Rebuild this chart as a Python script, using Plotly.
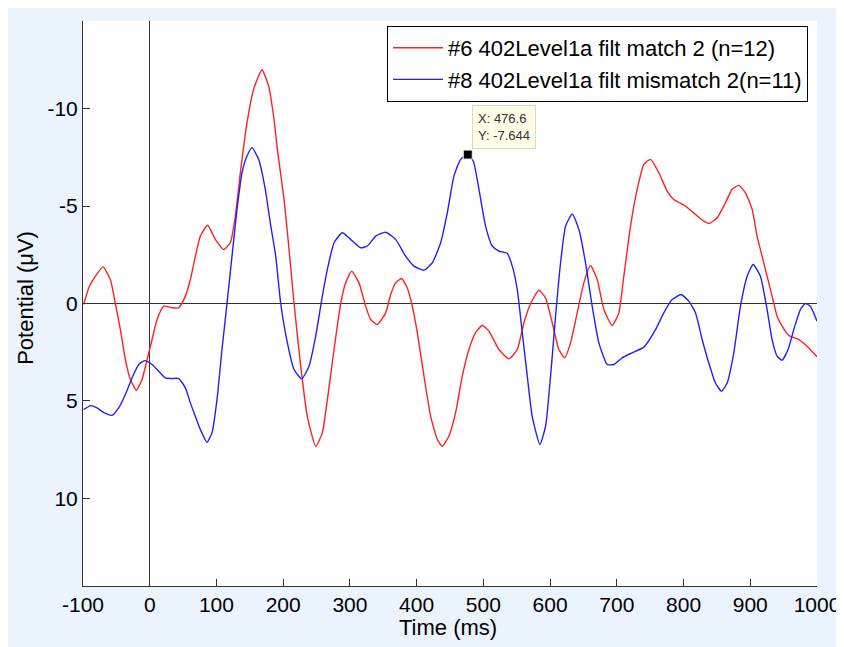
import plotly.graph_objects as go

# ---- data ----
red_x = [-99, -91.4, -81.4, -70, -59, -51.5, -44, -36.5, -29, -20, -11.5, -4, 3.5, 11, 21, 33.4, 43.4,
         53.4, 60.9, 68.4, 75.9, 86.8, 98.3, 110.8, 120.8, 128.3, 135.8, 145.8, 155.7, 168.2, 178.2,
         185.7, 191.3, 201.3, 208.8, 216.3, 226.2, 236.2, 248.7, 258.7, 266.2, 276.2, 286.2, 293.6,
         302.6, 313.6, 323.6, 331.1, 341.1, 353.6, 361.1, 368.5, 377.5, 386, 393.5, 401, 411, 421,
         431, 438.4, 448.4, 458.4, 468.4, 478.4, 488.4, 498.3, 508.3, 523.3, 538.3, 550.8, 560.8,
         570.8, 583.2, 593.2, 603.2, 613.2, 621.7, 630.7, 640.6, 650.6, 660.6, 670.6, 680.6, 693.1,
         703, 710.5, 720.5, 730.5, 740.5, 750.5, 763, 775.4, 785.4, 802.9, 817.9, 830.4, 838.8,
         850.3, 862.8, 872.8, 882.8, 892.8, 902.8, 910.2, 917.7, 925.2, 932.7, 940.2, 947.7, 957.7,
         972.7, 985.1, 1000]
red_y = [0.05, -0.8, -1.4, -1.88, -1.23, 0, 1.34, 2.88, 3.9, 4.45, 3.9, 2.88, 1.85, 0.82, 0.14, 0.22,
         0.22, -0.38, -1.23, -2.43, -3.46, -4.02, -3.29, -2.77, -3.12, -4.49, -6.71, -9.28, -11.0,
         -12.0, -11.16, -9.6, -7.9, -5.34, -2.77, 0, 3.2, 5.79, 7.33, 6.64, 4.93, 2.36, 0, -1.06,
         -1.66, -1.06, 0.14, 0.82, 1.08, 0.48, -0.46, -1.06, -1.28, -0.8, 0.14, 1.5, 3.73, 5.79,
         6.98, 7.33, 6.8, 5.6, 3.73, 2.36, 1.5, 1.13, 1.42, 2.36, 2.84, 2.36, 0.99, 0, -0.68, -0.29,
         0.99, 2.36, 2.79, 2.02, 0.48, -1.06, -1.95, -1.23, 0.31, 1.13, 0.48, -1.4, -3.97, -5.86,
         -7.14, -7.4, -6.71, -5.77, -5.34, -5.0, -4.57, -4.23, -4.11, -4.4, -5.17, -5.86, -6.06,
         -5.68, -4.83, -3.46, -2.43, -1.4, -0.38, 0.65, 1.16, 1.64, 1.85, 2.19, 2.74]

blue_x = [-99, -89, -79, -68, -56.5, -46.5, -36.5, -26.5, -16.5, -7.5, 3.5, 13.5, 23.4, 33.4, 43.4,
          53.4, 60.9, 68.4, 75.9, 85.8, 93.3, 100.8, 108.3, 115.8, 123.3, 130.8, 138.3, 145.8,
          153.2, 163.2, 173.2, 180.7, 188.8, 196.3, 206.3, 216.3, 227.7, 238.7, 248.7, 258.7,
          266.2, 276.2, 288.7, 301.1, 316.1, 326.1, 338.6, 353.6, 368.5, 383.5, 396, 411, 423.5,
          436, 446, 455.9, 465.9, 476.6, 485, 493.4, 503.3, 513.3, 523.3, 535.8, 543.3, 550.8,
          558.3, 565.8, 573.2, 584.7, 593.2, 600.7, 608.2, 615.7, 623.2, 633.2, 643.2, 653.1,
          663.1, 673.1, 685.6, 695.6, 708, 723, 740.5, 758, 770.4, 783, 796.4, 807.9, 817.9,
          827.9, 837.8, 847.8, 856.8, 865.3, 875.3, 885.3, 895.3, 904.3, 915.2, 925.2, 932.7,
          940.2, 947.7, 956.7, 966.7, 975.1, 982.6, 990.1, 1000]
blue_y = [5.45, 5.24, 5.36, 5.62, 5.74, 5.36, 4.67, 3.82, 3.13, 2.93, 3.13, 3.48, 3.82, 3.85, 3.85,
          4.33, 5.1, 5.79, 6.47, 7.12, 6.64, 4.93, 2.36, 0, -2.43, -4.83, -6.71, -7.57, -8.0, -7.4,
          -5.86, -4.14, -2.43, 0, 2.02, 3.39, 3.87, 3.22, 1.68, -0.38, -1.75, -3.12, -3.63, -3.29,
          -2.86, -2.95, -3.46, -3.66, -3.29, -2.43, -1.92, -1.71, -2.09, -3.12, -4.66, -6.54, -7.4,
          -7.644, -7.3, -5.86, -3.97, -2.95, -2.69, -2.57, -1.92, -0.72, 1.5, 3.73, 5.79, 7.24,
          6.3, 3.73, 0.65, -2.09, -3.97, -4.6, -3.8, -2.09, 0.14, 2.02, 3.13, 3.13, 2.79, 2.53,
          2.24, 1.34, 0.48, -0.2, -0.46, -0.12, 0.48, 1.85, 3.05, 4.08, 4.5, 4.08, 2.53, 0.14,
          -1.4, -2.0, -1.4, 0.31, 1.85, 2.7, 2.91, 2.36, 1.16, 0.31, 0.0, 0.14, 0.91]

red_name = "#6 402Level1a filt match 2 (n=12)"
blue_name = "#8 402Level1a filt mismatch 2(n=11)"
tip_x = [476.6]
tip_y = [-7.644]
x_ticks = [-100, 0, 100, 200, 300, 400, 500, 600, 700, 800, 900, 1000]
x_ticktext = ["-100", "0", "100", "200", "300", "400", "500", "600", "700", "800", "900", "1000"]
y_ticks = [-10, -5, 0, 5, 10]
y_ticktext = ["-10", "-5", "0", "5", "10"]
x_title = "Time (ms)"
y_title = "Potential (μV)"

FONT = "Liberation Sans, Arial, sans-serif"
PANEL = "#ebf3fd"
ML, MT, MR, MB = 75, 13, 35, 69
PW, PH = 844 - ML - MR, 647 - MT - MB   # plot area size in px

fig = go.Figure()
fig.add_trace(go.Scatter(x=red_x, y=red_y, mode="lines", name=red_name,
                         line=dict(color="#ff2020", width=1.4, shape="spline", smoothing=0.5)))
fig.add_trace(go.Scatter(x=blue_x, y=blue_y, mode="lines", name=blue_name,
                         line=dict(color="#2020ff", width=1.4, shape="spline", smoothing=0.5)))
fig.add_trace(go.Scatter(x=tip_x, y=tip_y, mode="markers", showlegend=False,
                         marker=dict(symbol="square", size=9, color="black",
                                     line=dict(color="#f5f5dc", width=1))))

fig.add_annotation(x=tip_x[0], y=tip_y[0], xref="x", yref="y",
                   text=f"X: {tip_x[0]}<br>Y: {tip_y[0]}", showarrow=False,
                   xanchor="left", yanchor="bottom", xshift=4, yshift=6, align="left",
                   font=dict(family=FONT, size=13, color="#333333"),
                   bgcolor="#ffffe6", bordercolor="#d8d8c8", borderwidth=1, borderpad=5)

# axis titles
fig.add_annotation(x=(440 - ML) / PW, y=(PH + MT - 619) / PH, xref="paper", yref="paper",
                   text=x_title, showarrow=False, xanchor="center", yanchor="middle",
                   font=dict(family=FONT, size=22, color="black"))
fig.add_annotation(x=(18 - ML) / PW, y=0.51, xref="paper", yref="paper",
                   text=y_title, showarrow=False, textangle=-90,
                   xanchor="center", yanchor="middle",
                   font=dict(family=FONT, size=22, color="black"))

fig.update_layout(
    width=844, height=647,
    margin=dict(l=ML, r=MR, t=MT, b=MB, autoexpand=False),
    paper_bgcolor=PANEL,
    plot_bgcolor="white",
    font=dict(family=FONT, size=21, color="black"),
    legend=dict(x=(800 - ML) / PW, y=(PH + MT - 18) / PH, xanchor="right", yanchor="top",
                bgcolor="white", bordercolor="black", borderwidth=1,
                font=dict(family=FONT, size=22, color="black"),
                itemwidth=50, tracegroupgap=0),
    xaxis=dict(range=[-100, 1000], tickvals=x_ticks, ticktext=x_ticktext, ticks="inside",
               ticklen=7, tickcolor="#333333", showline=True, linecolor="#333333", linewidth=1,
               showgrid=False, zeroline=True, zerolinecolor="#333333", zerolinewidth=1,
               mirror=False, automargin=False),
    yaxis=dict(range=[14.5, -14.5], tickvals=y_ticks, ticktext=y_ticktext, ticks="inside",
               ticklen=7, tickcolor="#333333", showline=True, linecolor="#333333", linewidth=1,
               showgrid=False, zeroline=True, zerolinecolor="#333333", zerolinewidth=1,
               mirror=False, automargin=False),
)

fig.write_html("out.html")
